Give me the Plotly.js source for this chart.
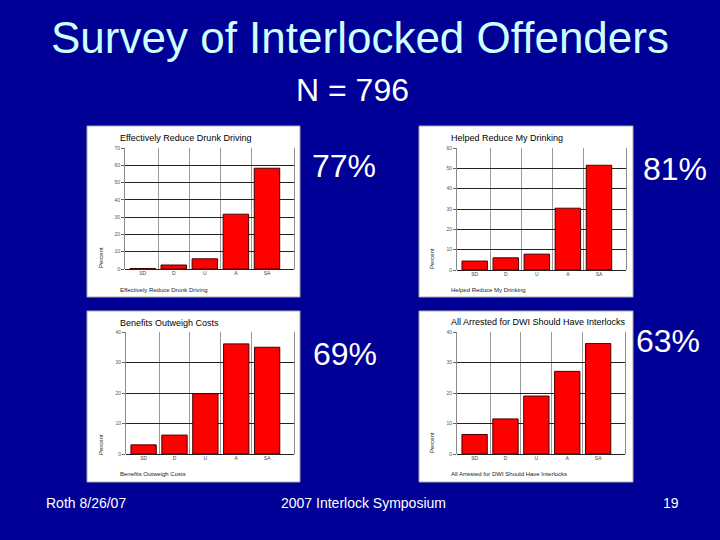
<!DOCTYPE html>
<html>
<head>
<meta charset="utf-8">
<script src="https://cdn.plot.ly/plotly-3.0.1.min.js"></script>
<style>html,body{margin:0;padding:0;background:#000096;}#chart{width:720px;height:540px;}</style>
</head>
<body>
<div id="chart"></div>
<script>
const categories = ['SD', 'D', 'U', 'A', 'SA'];
const reduceDrunkDriving = [0.3, 2.3, 5.9, 31.7, 58.3];
const helpedReduceDrinking = [4.4, 6.0, 7.8, 30.4, 51.5];
const benefitsOutweighCosts = [3.0, 6.2, 19.8, 36.1, 35.0];
const allArrestedInterlocks = [6.4, 11.5, 19.0, 27.1, 36.2];
const chartTitles = ['Effectively Reduce Drunk Driving', 'Helped Reduce My Drinking', 'Benefits Outweigh Costs', 'All Arrested for DWI Should Have Interlocks'];
const agreePercents = ['77%', '81%', '69%', '63%'];
const yMax = [70, 60, 40, 40];
const slideTitle = 'Survey of Interlocked Offenders';
const sampleSize = 'N = 796';
const footerLeft = 'Roth 8/26/07';
const footerCenter = '2007 Interlock Symposium';
const footerRight = '19';

const W = 720, H = 540;
const px = v => v / W;
const py = v => 1 - v / H;
const FONT = 'Liberation Sans, Arial, sans-serif';

const series = [reduceDrunkDriving, helpedReduceDrinking, benefitsOutweighCosts, allArrestedInterlocks];
// plot areas in pixels [left, right, top, bottom]
const plotBoxes = [[125, 294, 148, 269], [457, 626, 148, 270], [126, 294, 332, 454], [457, 625, 332, 454]];
const panelBoxes = [[87, 300, 126, 297], [419, 633, 126, 297], [87, 300, 311, 482], [419, 633, 311, 482]];
const titlePos = [[118, 138], [449, 138], [118, 323], [449, 322]];
const bottomPos = [[118, 290], [449, 290], [118, 474], [449, 474]];
const percentAxisPos = [[101, 258], [432, 259], [101, 445], [432, 443]];
const bigPctPos = [[344, 166], [675, 169], [345, 354], [668, 341]];

const xIdx = categories.map((c, i) => i);
const data = series.map((vals, k) => ({
  type: 'bar',
  x: xIdx,
  y: vals,
  width: 0.82,
  xaxis: 'x' + (k ? k + 1 : ''),
  yaxis: 'y' + (k ? k + 1 : ''),
  marker: {color: '#ff0000', line: {color: '#4a0000', width: 1}},
  hoverinfo: 'skip'
}));

const layout = {
  width: W, height: H,
  margin: {l: 0, r: 0, t: 0, b: 0},
  paper_bgcolor: '#000096',
  plot_bgcolor: '#ffffff',
  showlegend: false,
  bargap: 0,
  shapes: [],
  annotations: []
};

plotBoxes.forEach((b, k) => {
  const sx = k ? String(k + 1) : '';
  layout['xaxis' + sx] = {
    domain: [px(b[0]), px(b[1])],
    anchor: 'y' + sx,
    range: [-0.57, 4.87],
    tickmode: 'array', tickvals: xIdx, ticktext: categories,
    showgrid: false, zeroline: false, showline: false,
    ticks: '', ticklen: 0,
    tickfont: {family: FONT, size: 5, color: '#444'},
    minor: {tickmode: 'array', tickvals: [0.5, 1.5, 2.5, 3.5], showgrid: true, gridcolor: '#9a9a9a', gridwidth: 1, ticks: ''},
    fixedrange: true
  };
  layout['yaxis' + sx] = {
    domain: [py(b[3]), py(b[2])],
    anchor: 'x' + sx,
    range: [0, yMax[k]],
    dtick: 10, tick0: 0,
    showgrid: true, gridcolor: '#222222', gridwidth: 1,
    zeroline: true, zerolinecolor: '#222222', zerolinewidth: 1,
    showline: true, mirror: true, linecolor: '#8a8a8a', linewidth: 1,
    ticks: 'outside', ticklen: 3, tickcolor: '#666',
    tickfont: {family: FONT, size: 5, color: '#555'},
    fixedrange: true
  };
});

panelBoxes.forEach(b => {
  layout.shapes.push({type: 'rect', xref: 'paper', yref: 'paper', layer: 'below',
    x0: px(b[0]), x1: px(b[1]), y0: py(b[3]), y1: py(b[2]),
    fillcolor: '#ffffff', line: {color: '#a8a8a8', width: 1}});
});

function ann(text, x, y, size, color, xanchor, extra) {
  return Object.assign({text: text, x: px(x), y: py(y), xref: 'paper', yref: 'paper',
    xanchor: xanchor, yanchor: 'middle', showarrow: false,
    font: {family: FONT, size: size, color: color}}, extra || {});
}

chartTitles.forEach((t, k) => {
  layout.annotations.push(ann(t, titlePos[k][0], titlePos[k][1], 9, '#000000', 'left'));
  layout.annotations.push(ann(t, bottomPos[k][0], bottomPos[k][1], 6, '#222222', 'left'));
  layout.annotations.push(ann('Percent', percentAxisPos[k][0], percentAxisPos[k][1], 6, '#222222', 'center', {textangle: -90}));
  layout.annotations.push(ann(agreePercents[k], bigPctPos[k][0], bigPctPos[k][1], 32, '#ffffff', 'center'));
});

layout.annotations.push(ann(slideTitle, 360, 37, 44, '#ccffff', 'center'));
layout.annotations.push(ann(sampleSize, 352, 90, 32, '#ffffff', 'center'));
layout.annotations.push(ann(footerLeft, 44, 503, 14, '#ffffff', 'left'));
layout.annotations.push(ann(footerCenter, 279, 503, 14, '#ffffff', 'left'));
layout.annotations.push(ann(footerRight, 661, 503, 14, '#ffffff', 'left'));

Plotly.newPlot('chart', data, layout, {staticPlot: true, displayModeBar: false});
</script>
</body>
</html>
